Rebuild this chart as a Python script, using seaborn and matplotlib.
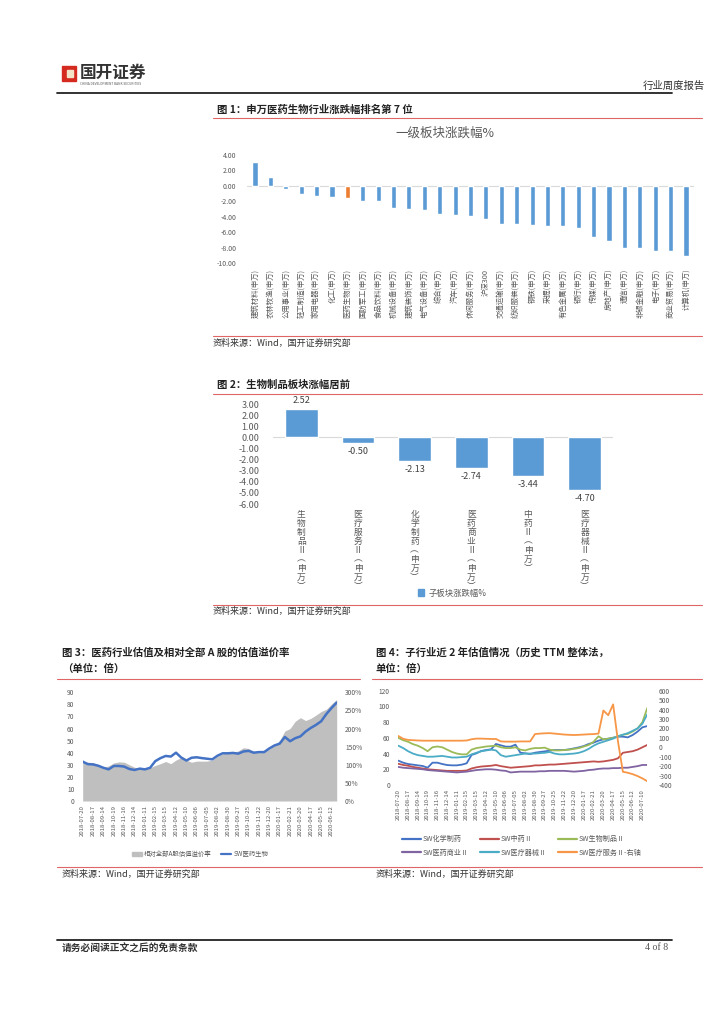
import numpy as np
import pandas as pd
import matplotlib
matplotlib.use('Agg')
import matplotlib.pyplot as plt
import seaborn as sns
from matplotlib.patches import Rectangle, Patch
from matplotlib.lines import Line2D

sns.set_style('white')
plt.rcParams['font.family'] = ['Noto Sans CJK SC', 'DejaVu Sans']
plt.rcParams['axes.unicode_minus'] = False

# ---------------- data ----------------
ind_names = ['建筑材料(申万)', '农林牧渔(申万)', '公用事业(申万)', '轻工制造(申万)', '家用电器(申万)',
             '化工(申万)', '医药生物(申万)', '国防军工(申万)', '食品饮料(申万)', '机械设备(申万)',
             '建筑装饰(申万)', '电气设备(申万)', '综合(申万)', '汽车(申万)', '休闲服务(申万)', '沪深300',
             '交通运输(申万)', '纺织服装(申万)', '钢铁(申万)', '采掘(申万)', '有色金属(申万)', '银行(申万)',
             '传媒(申万)', '房地产(申万)', '通信(申万)', '非银金融(申万)', '电子(申万)', '商业贸易(申万)',
             '计算机(申万)']
ind_values = [3.1, 1.15, -0.35, -1.0, -1.25, -1.5, -1.6, -1.95, -1.95, -2.9, -3.0, -3.15, -3.65, -3.8,
              -3.9, -4.3, -4.9, -4.9, -5.05, -5.15, -5.2, -5.5, -6.6, -7.1, -8.0, -8.0, -8.4, -8.4, -9.05]
highlight = '医药生物(申万)'

sub_names = ['生物制品Ⅱ(申万)', '医疗服务Ⅱ(申万)', '化学制药(申万)', '医药商业Ⅱ(申万)', '中药Ⅱ(申万)', '医疗器械Ⅱ(申万)']
sub_values = [2.52, -0.50, -2.13, -2.74, -3.44, -4.70]

c3_ticks = ['2018-07-20', '2018-08-17', '2018-09-14', '2018-10-19', '2018-11-16', '2018-12-14',
            '2019-01-11', '2019-02-15', '2019-03-15', '2019-04-12', '2019-05-10', '2019-06-06',
            '2019-07-05', '2019-08-02', '2019-08-30', '2019-09-27', '2019-10-25', '2019-11-22',
            '2019-12-20', '2020-01-17', '2020-02-21', '2020-03-20', '2020-04-17', '2020-05-15',
            '2020-06-12']
c3_pe = [32.6, 30.5, 30.3, 29.2, 27.5, 26.2, 29.0, 29.0, 28.5, 26.5,
         25.7, 26.8, 26.2, 27.5, 33.0, 35.5, 37.3, 36.8, 40.0, 36.0,
         33.5, 35.8, 36.2, 35.5, 35.0, 34.5, 37.5, 39.5, 39.5, 39.8,
         39.2, 41.0, 41.5, 40.0, 40.5, 40.5, 43.5, 46.0, 47.5, 53.0,
         49.5, 52.0, 53.5, 57.5, 60.5, 63.0, 66.0, 72.0, 77.0, 81.5]
c3_premium = [109, 107, 106, 100, 92, 97, 105, 108, 107, 100,
              93, 91, 89, 92, 98, 103, 109, 103, 113, 120,
              113, 107, 110, 110, 110, 113, 123, 130, 133, 135,
              138, 147, 145, 137, 133, 135, 143, 153, 167, 193,
              200, 220, 230, 222, 228, 237, 247, 253, 268, 280]

c4_ticks = c3_ticks + ['2020-07-10']
c4_chem = [31, 28.4, 26.7, 25.9, 25, 24.2, 22, 28.4, 28.4, 26.7,
           25.4, 25, 25, 25.9, 27.6, 38.2, 40.3, 43.3, 44.5, 45.4,
           52.2, 50.5, 48.8, 48.8, 51.3, 41.1, 40.3, 39.4, 41.1, 42,
           42.8, 43.7, 44.5, 44.5, 44.5, 45.4, 46.6, 47.9, 49.6, 52.2,
           53.9, 56.4, 58.1, 58.9, 60.2, 61.5, 61.5, 60.6, 63.6, 67.9, 73.4, 75]
c4_tcm = [27, 25.5, 24.5, 23, 22, 21, 20, 19.5, 19, 18.5,
          18, 18, 18, 18, 18.5, 21, 22.5, 23.5, 24, 24.5,
          25.5, 24, 23, 22, 22.5, 23, 23.5, 24, 25, 25,
          25.5, 26, 26, 26.5, 27, 27.5, 28, 28.5, 29, 29.5,
          30, 29.5, 30, 31, 32, 34, 41, 42, 43, 45, 48, 51]
c4_bio = [60, 57, 55, 52, 50, 47, 43, 48, 49, 48,
          45, 42, 40, 39, 39, 45, 47, 48, 49, 49.5,
          50, 48, 47, 47, 48, 45, 44, 46, 47, 47,
          47.5, 45, 44, 44, 44.5, 45, 46, 47, 49, 51,
          55, 62, 58, 59, 60, 62, 64, 65, 68, 72, 80, 98]
c4_comm = [23, 22, 21.5, 21, 20.5, 20, 19, 18.5, 18, 17.5,
           17, 16.5, 16, 16.5, 17, 18, 19, 19.5, 20, 20,
           19.5, 18.5, 18, 16, 16.5, 17, 17, 17, 17, 17.5,
           17.5, 18, 18, 18, 18, 17.5, 17, 17.5, 18, 19,
           19.5, 20.5, 21, 21, 21.5, 21.5, 22, 22, 23, 24, 25.5, 25.5]
c4_device = [50, 47, 43, 40, 38, 37, 36, 36, 36.5, 37,
             36, 35, 35, 35.5, 36, 39, 41, 43, 44, 45,
             44, 38, 36, 37, 38, 39, 40, 40, 40, 40.5,
             41, 42, 40, 39, 39, 39.5, 40, 41, 43, 46,
             50, 53, 55, 57, 59, 62, 64, 66, 69, 72, 78, 90]
c4_service = [120, 90, 78, 75, 72, 70, 70, 70, 70, 70,
              70, 70, 70, 70, 72, 85, 92, 92, 90, 88,
              88, 62, 60, 60, 60, 62, 62, 62, 140, 145,
              148, 150, 145, 140, 135, 132, 130, 132, 135, 138,
              140, 145, 390, 340, 455, 60, -260, -270, -285, -305, -330, -360]

# ---------------- layout helpers ----------------
W, H = 724, 1024
fig = plt.figure(figsize=(7.24, 10.24), dpi=100)
fig.patch.set_facecolor('white')

def ax_px(x0, y0, x1, y1):
    return fig.add_axes([x0 / W, 1 - y1 / H, (x1 - x0) / W, (y1 - y0) / H])

def txt(x, y, s, **kw):
    kw.setdefault('va', 'center')
    return fig.text(x / W, 1 - y / H, s, **kw)

def hline(x0, x1, y, color, lw):
    fig.add_artist(Line2D([x0 / W, x1 / W], [1 - y / H, 1 - y / H], color=color, lw=lw))

GRAY = '#595959'
RED = '#E06666'

def clean(ax):
    for s in ax.spines.values():
        s.set_visible(False)
    ax.tick_params(length=0)
    ax.grid(False)
    ax.set_facecolor('none')

# ---------------- header ----------------
fig.add_artist(Rectangle((62 / W, 1 - 81 / H), 14 / W, 15 / H, color='#D42A1F', transform=fig.transFigure))
fig.add_artist(Rectangle((67 / W, 1 - 77 / H), 6 / W, 7 / H, color='#F3E3C8', transform=fig.transFigure))
txt(80, 73, '国开证券', fontsize=12, fontweight='bold', color='#333333')
txt(80, 84, 'CHINA DEVELOPMENT BANK SECURITIES', fontsize=2.3, color='#555555')
txt(705, 86, '行业周度报告', fontsize=7.5, color='#333333', ha='right')
hline(57, 672, 93, '#222222', 1.3)

# ---------------- chart 1 ----------------
txt(217, 110, '图 1：申万医药生物行业涨跌幅排名第 7 位', fontsize=7.5, fontweight='bold', color='#222222')
hline(213, 702, 118, RED, 0.8)
txt(445, 133, '一级板块涨跌幅%', fontsize=9, color=GRAY, ha='center')

ax1 = ax_px(247.3, 155, 693.7, 263)
df1 = pd.DataFrame({'name': ind_names, 'value': ind_values})
pal1 = {n: ('#ED7D31' if n == highlight else '#5B9BD5') for n in ind_names}
sns.barplot(data=df1, x='name', y='value', hue='name', palette=pal1, width=0.33,
            saturation=1, legend=False, ax=ax1)
ax1.axhline(0, color='#D9D9D9', lw=0.8, zorder=0)
ax1.set_xlim(-0.5, len(ind_names) - 0.5)
ax1.set_ylim(-10, 4)
ax1.set_yticks(np.arange(-10, 4.1, 2))
ax1.set_yticklabels([f'{v:.2f}' for v in np.arange(-10, 4.1, 2)], fontsize=5, color=GRAY)
ax1.set_xticks(range(len(ind_names)))
ax1.set_xticklabels(ind_names, rotation=90, fontsize=5.3, color=GRAY, va='top', ha='center')
ax1.set_xlabel('')
ax1.set_ylabel('')
clean(ax1)
ax1.tick_params(axis='x', pad=4)
ax1.tick_params(axis='y', pad=8)

hline(213, 702, 336, RED, 0.8)
txt(213, 343, '资料来源：Wind，国开证券研究部', fontsize=6.5, color='#333333')

# ---------------- chart 2 ----------------
txt(217, 385, '图 2：生物制品板块涨幅居前', fontsize=7.5, fontweight='bold', color='#222222')
hline(213, 702, 394, RED, 0.8)

ax2 = ax_px(273, 404, 613, 504)
df2 = pd.DataFrame({'name': sub_names, 'value': sub_values})
sns.barplot(data=df2, x='name', y='value', color='#5B9BD5', width=0.58, saturation=1, ax=ax2)
ax2.axhline(0, color='#D9D9D9', lw=0.8, zorder=0)
ax2.set_xlim(-0.5, len(sub_names) - 0.5)
ax2.set_ylim(-6, 3)
yt2 = np.arange(-6, 3.1, 1)
ax2.set_yticks(yt2)
ax2.set_yticklabels([f'{v:.2f}' for v in yt2], fontsize=6.5, color=GRAY)
ax2.set_xticks(range(len(sub_names)))
stacked = ['\n'.join(n.replace('(', '︵').replace(')', '︶')) for n in sub_names]
ax2.set_xticklabels(stacked, fontsize=6.3, color=GRAY, linespacing=1.0, va='top')
ax2.set_xlabel('')
ax2.set_ylabel('')
for i, v in enumerate(sub_values):
    ax2.annotate(f'{v:.2f}', (i, v), xytext=(0, 3 if v > 0 else -3), textcoords='offset points',
                 ha='center', va='bottom' if v > 0 else 'top', fontsize=6.5, color='#404040')
clean(ax2)
ax2.tick_params(axis='x', pad=4)
ax2.tick_params(axis='y', pad=10)
fig.legend(handles=[Patch(color='#5B9BD5')], labels=['子板块涨跌幅%'], loc='center',
           bbox_to_anchor=(452 / W, 1 - 593 / H), frameon=False, fontsize=6, labelcolor=GRAY,
           handlelength=0.8, handleheight=0.8, handletextpad=0.5)

hline(213, 702, 605, RED, 0.8)
txt(213, 611, '资料来源：Wind，国开证券研究部', fontsize=6.5, color='#333333')

# ---------------- chart 3 ----------------
txt(62, 653, '图 3：医药行业估值及相对全部 A 股的估值溢价率', fontsize=7.5, fontweight='bold', color='#222222')
txt(62, 669, '（单位：倍）', fontsize=7.5, fontweight='bold', color='#222222')
hline(57, 360, 679, RED, 0.8)

n3 = len(c3_pe)
x3 = np.arange(n3)
ax3 = ax_px(82.7, 692.3, 336.7, 801)
ax3r = ax3.twinx()
ax3r.fill_between(x3, 0, c3_premium, color='#BFBFBF', lw=0, label='相对全部A股估值溢价率')
ax3r.set_ylim(0, 300)
ax3r.set_yticks(np.arange(0, 301, 50))
ax3r.set_yticklabels([f'{v}%' for v in range(0, 301, 50)], fontsize=4.8, color=GRAY)
ax3.set_zorder(ax3r.get_zorder() + 1)
sns.lineplot(x=x3, y=c3_pe, color='#4472C4', lw=1.8, ax=ax3, label='SW医药生物')
ax3.set_ylim(0, 90)
ax3.set_xlim(0, n3 - 1)
ax3.set_yticks(np.arange(0, 91, 10))
ax3.set_yticklabels([str(v) for v in range(0, 91, 10)], fontsize=4.8, color=GRAY)
ax3.set_xticks(np.arange(0, 2 * len(c3_ticks), 2))
ax3.set_xticklabels(c3_ticks, rotation=90, fontsize=4.3, color=GRAY)
ax3.get_legend().remove()
clean(ax3)
clean(ax3r)
ax3.tick_params(axis='y', pad=6)
ax3.tick_params(axis='x', pad=3)
ax3r.tick_params(axis='y', pad=6)
fig.legend(handles=[Patch(color='#BFBFBF'), Line2D([], [], color='#4472C4', lw=1.6)],
           labels=['相对全部A股估值溢价率', 'SW医药生物'], loc='center', ncol=2,
           bbox_to_anchor=(200 / W, 1 - 854 / H), frameon=False, fontsize=4.6, labelcolor=GRAY,
           handlelength=1.6, handleheight=0.7, handletextpad=0.3, columnspacing=1.5)

# ---------------- chart 4 ----------------
txt(376, 653, '图 4：子行业近 2 年估值情况（历史 TTM 整体法，', fontsize=7.5, fontweight='bold', color='#222222')
txt(376, 669, '单位：倍）', fontsize=7.5, fontweight='bold', color='#222222')
hline(372, 702, 679, RED, 0.8)

n4 = len(c4_chem)
x4 = np.arange(n4)
ax4 = ax_px(398.3, 690.7, 647.3, 785)
ax4r = ax4.twinx()
series4 = [('SW化学制药', c4_chem, '#4472C4'), ('SW中药Ⅱ', c4_tcm, '#C0504D'),
           ('SW生物制品Ⅱ', c4_bio, '#9BBB59'), ('SW医药商业Ⅱ', c4_comm, '#8064A2'),
           ('SW医疗器械Ⅱ', c4_device, '#4BACC6')]
handles4, labels4 = [], []
for name, vals, col in series4:
    sns.lineplot(x=x4, y=vals, color=col, lw=1.3, ax=ax4)
    handles4.append(Line2D([], [], color=col, lw=1.6))
    labels4.append(name)
sns.lineplot(x=x4, y=c4_service, color='#F79646', lw=1.3, ax=ax4r)
handles4.append(Line2D([], [], color='#F79646', lw=1.6))
labels4.append('SW医疗服务Ⅱ-右轴')
ax4.set_ylim(0, 120)
ax4.set_xlim(0, n4 - 1)
ax4.set_yticks(np.arange(0, 121, 20))
ax4.set_yticklabels([str(v) for v in range(0, 121, 20)], fontsize=4.8, color=GRAY)
ax4.set_xticks(np.arange(0, 2 * len(c4_ticks), 2))
ax4.set_xticklabels(c4_ticks, rotation=90, fontsize=4.3, color=GRAY)
ax4r.set_ylim(-400, 600)
ax4r.set_yticks(np.arange(-400, 601, 100))
ax4r.set_yticklabels([str(v) for v in range(-400, 601, 100)], fontsize=4.8, color=GRAY)
ax4.set_xlabel('')
clean(ax4)
clean(ax4r)
ax4.tick_params(axis='y', pad=6)
ax4.tick_params(axis='x', pad=3)
ax4r.tick_params(axis='y', pad=8)
order = [0, 3, 1, 4, 2, 5]
fig.legend(handles=[handles4[i] for i in order], labels=[labels4[i] for i in order], loc='center', ncol=3,
           bbox_to_anchor=(522 / W, 1 - 846 / H), frameon=False, fontsize=5.1, labelcolor=GRAY,
           handlelength=2.6, handletextpad=0.3, columnspacing=1.6, labelspacing=0.75)

hline(57, 702, 867, RED, 0.8)
txt(62, 874, '资料来源：Wind，国开证券研究部', fontsize=6.5, color='#333333')
txt(376, 874, '资料来源：Wind，国开证券研究部', fontsize=6.5, color='#333333')

# ---------------- footer ----------------
hline(57, 672, 940, '#222222', 1.3)
txt(62, 948, '请务必阅读正文之后的免责条款', fontsize=7, fontweight='bold', color='#333333')
txt(668, 948, '4 of 8', fontsize=7, color='#555555', ha='right', family=['Liberation Serif', 'DejaVu Serif'])

fig.savefig('out.png', dpi=100, facecolor='white')
